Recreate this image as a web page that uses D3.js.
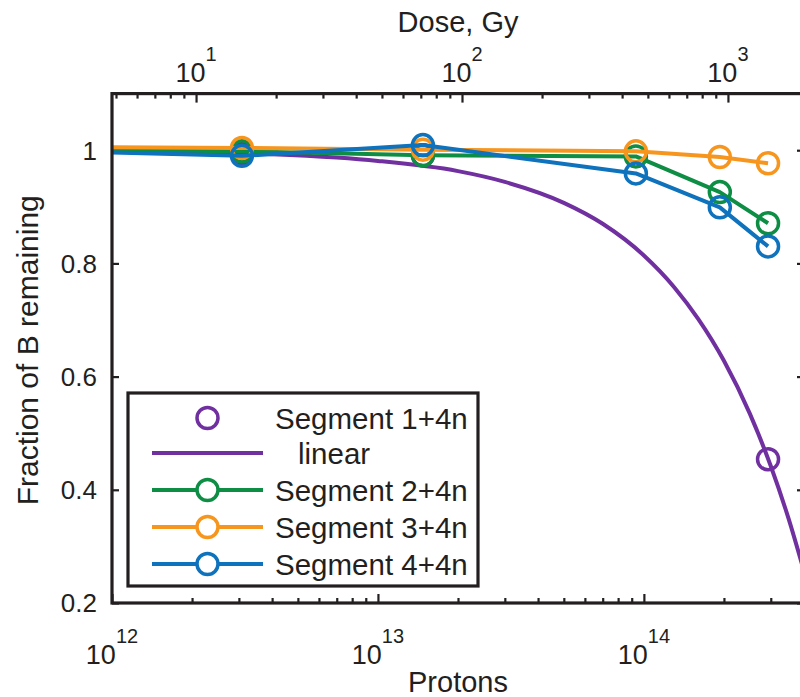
<!DOCTYPE html>
<html>
<head>
<meta charset="utf-8">
<script src="https://cdn.jsdelivr.net/npm/d3@7"></script>
<style>
  html, body { margin: 0; padding: 0; background: #fff; }
  svg { display: block; font-family: "Liberation Sans", Arial, Helvetica, sans-serif; }
</style>
</head>
<body>
<svg id="chart" width="800" height="697"></svg>
<script>
// ---------------- data ----------------
const protonDomain = [1e12, 4e14];
const gyPer1e12Protons = 4.83;           // dose (Gy) corresponding to 1e12 protons
const yDomain = [0.2, 1.1];

const yTicks = [0.2, 0.4, 0.6, 0.8, 1];
const yTickLabels = ["0.2", "0.4", "0.6", "0.8", "1"];
const xMajorExp = [12, 13, 14];
const doseMajorExp = [1, 2, 3];

// measurement positions (protons)
const protons = [1e12, 3.08e12, 1.476e13, 9.33e13, 1.93e14, 2.93e14];

// Segment 1+4n (markers only)
const seg1Protons = [3.08e12, 1.476e13, 2.93e14];
const seg1Values  = [0.995, 0.991, 0.454];

// linear fit
const linearProtons = [1e12, 2e12, 4e12, 7e12, 1e13, 2e13, 3e13, 5e13, 7e13, 1e14, 1.3e14, 1.6e14, 2e14, 2.5e14, 3e14, 3.5e14, 4e14];
const linearValues  = [0.998, 0.996, 0.993, 0.987, 0.981, 0.963, 0.944, 0.907, 0.870, 0.814, 0.758, 0.702, 0.628, 0.535, 0.442, 0.349, 0.256];

// Segments 2,3,4 (first value is the line start at the left edge, no marker)
const seg2Values = [1.000, 0.998, 0.991, 0.989, 0.926, 0.871];
const seg3Values = [1.005, 1.004, 1.001, 0.998, 0.988, 0.977];
const seg4Values = [0.996, 0.990, 1.009, 0.959, 0.899, 0.830];

const legendLabels = ["Segment 1+4n", "linear", "Segment 2+4n", "Segment 3+4n", "Segment 4+4n"];

const purple = "#7030A0", green = "#0E8E45", orange = "#F7961F", blue = "#0E72BC";

// ---------------- layout ----------------
const L = 112, R = 804, T = 93.6, B = 603;
const svg = d3.select("#chart");

const x = d3.scaleLog().domain(protonDomain).range([L, R]);
const xTop = d3.scaleLog()
  .domain(protonDomain.map(p => p / 1e12 * gyPer1e12Protons))
  .range([L, R]);
const y = d3.scaleLinear().domain(yDomain).range([B, T]);

svg.append("defs").append("clipPath").attr("id", "clip")
  .append("rect").attr("x", L).attr("y", T).attr("width", R - L).attr("height", B - T);

// minor ticks for log axes
function minorTicks(domain) {
  const out = [];
  const lo = Math.floor(Math.log10(domain[0])), hi = Math.ceil(Math.log10(domain[1]));
  for (let e = lo; e <= hi; e++) {
    for (let m = 2; m <= 9; m++) {
      const v = m * Math.pow(10, e);
      if (v >= domain[0] && v <= domain[1]) out.push(v);
    }
  }
  return out;
}

function styleAxis(g) {
  g.select(".domain").remove();
  g.selectAll(".tick line").attr("stroke", "#231f20").attr("stroke-width", 2.2);
}

// bottom axis ticks
svg.append("g").attr("transform", `translate(0,${B})`)
  .call(d3.axisBottom(x).tickValues(xMajorExp.map(e => Math.pow(10, e))).tickSize(-9).tickFormat(""))
  .call(styleAxis);
svg.append("g").attr("transform", `translate(0,${B})`)
  .call(d3.axisBottom(x).tickValues(minorTicks(x.domain())).tickSize(-5).tickFormat(""))
  .call(styleAxis);

// top axis ticks
svg.append("g").attr("transform", `translate(0,${T})`)
  .call(d3.axisTop(xTop).tickValues(doseMajorExp.map(e => Math.pow(10, e))).tickSize(-9).tickFormat(""))
  .call(styleAxis);
svg.append("g").attr("transform", `translate(0,${T})`)
  .call(d3.axisTop(xTop).tickValues(minorTicks(xTop.domain())).tickSize(-5).tickFormat(""))
  .call(styleAxis);

// left/right axis ticks
svg.append("g").attr("transform", `translate(${L},0)`)
  .call(d3.axisLeft(y).tickValues(yTicks).tickSize(-7).tickFormat(""))
  .call(styleAxis);
svg.append("g").attr("transform", `translate(${R},0)`)
  .call(d3.axisRight(y).tickValues(yTicks).tickSize(-7).tickFormat(""))
  .call(styleAxis);

// y tick labels
svg.append("g").selectAll("text").data(yTicks).join("text")
  .attr("x", L - 15).attr("y", d => y(d)).attr("dy", "0.36em")
  .attr("text-anchor", "end").attr("font-size", 26).attr("fill", "#231f20")
  .text((d, i) => yTickLabels[i]);

// power-of-ten labels
function powLabel(g, xpos, baseY, exp) {
  const t = g.append("text").attr("x", xpos).attr("y", baseY)
    .attr("text-anchor", "middle").attr("fill", "#231f20");
  t.append("tspan").attr("font-size", 27).text("10");
  t.append("tspan").attr("font-size", 20).attr("dy", -21).text(String(exp));
}
const gb = svg.append("g");
xMajorExp.forEach(e => powLabel(gb, x(Math.pow(10, e)), 664, e));
const gt = svg.append("g");
doseMajorExp.forEach(e => powLabel(gt, xTop(Math.pow(10, e)), 82, e));

// axis titles
svg.append("text").attr("x", (L + R) / 2).attr("y", 692).attr("text-anchor", "middle")
  .attr("font-size", 29).attr("fill", "#231f20").text("Protons");
svg.append("text").attr("x", (L + R) / 2).attr("y", 32).attr("text-anchor", "middle")
  .attr("font-size", 29).attr("fill", "#231f20").text("Dose, Gy");
svg.append("text").attr("transform", `translate(38,${(T + B) / 2 + 2}) rotate(-90)`)
  .attr("text-anchor", "middle").attr("font-size", 30).attr("fill", "#231f20")
  .text("Fraction of B remaining");

// ---------------- data marks ----------------
const plot = svg.append("g").attr("clip-path", "url(#clip)");
const line = d3.line().x(d => x(d[0])).y(d => y(d[1]));
const lineSmooth = d3.line().x(d => x(d[0])).y(d => y(d[1])).curve(d3.curveMonotoneX);
const R_MARK = 10.5;

// linear fit
plot.append("path").datum(d3.zip(linearProtons, linearValues))
  .attr("d", lineSmooth).attr("fill", "none").attr("stroke", purple).attr("stroke-width", 4);
// segment 1 markers
plot.append("g").selectAll("circle").data(d3.zip(seg1Protons, seg1Values)).join("circle")
  .attr("cx", d => x(d[0])).attr("cy", d => y(d[1])).attr("r", R_MARK)
  .attr("fill", "none").attr("stroke", purple).attr("stroke-width", 3.5);

function series(values, color) {
  const pts = d3.zip(protons, values);
  plot.append("path").datum(pts).attr("d", line)
    .attr("fill", "none").attr("stroke", color).attr("stroke-width", 4).attr("stroke-linejoin", "round");
  plot.append("g").selectAll("circle").data(pts.slice(1)).join("circle")
    .attr("cx", d => x(d[0])).attr("cy", d => y(d[1])).attr("r", R_MARK)
    .attr("fill", "none").attr("stroke", color).attr("stroke-width", 3.5);
}
series(seg2Values, green);
series(seg3Values, orange);
series(seg4Values, blue);

// axes box
svg.append("rect").attr("x", L).attr("y", T).attr("width", R - L).attr("height", B - T)
  .attr("fill", "none").attr("stroke", "#231f20").attr("stroke-width", 3.2);

// ---------------- legend ----------------
const lg = svg.append("g");
lg.append("rect").attr("x", 128).attr("y", 393).attr("width", 350).attr("height", 193)
  .attr("fill", "#fff").attr("stroke", "#231f20").attr("stroke-width", 3.2);
const legColors = [purple, purple, green, orange, blue];
const rowY = [418, 453, 490, 527, 564];
legendLabels.forEach((lab, i) => {
  const ry = rowY[i];
  if (i !== 0) {
    lg.append("line").attr("x1", 152).attr("x2", 263).attr("y1", ry).attr("y2", ry)
      .attr("stroke", legColors[i]).attr("stroke-width", 4);
  }
  if (i !== 1) {
    lg.append("circle").attr("cx", 207.5).attr("cy", ry).attr("r", R_MARK)
      .attr("fill", i === 0 ? "none" : "#fff").attr("stroke", legColors[i]).attr("stroke-width", 3.5);
  }
  lg.append("text").attr("x", i === 1 ? 298 : 275).attr("y", ry).attr("dy", "0.36em")
    .attr("font-size", 29.5).attr("fill", "#231f20").text(lab);
});
</script>
</body>
</html>
